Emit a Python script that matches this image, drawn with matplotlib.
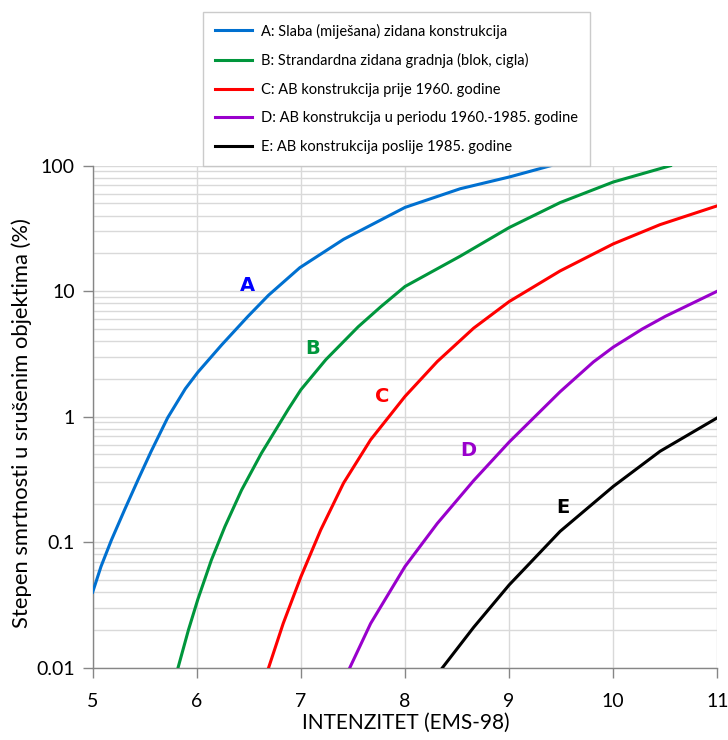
import matplotlib
matplotlib.use("Agg")
import matplotlib.pyplot as plt
from matplotlib.ticker import FixedLocator, LogLocator, NullFormatter, FuncFormatter

plt.rcParams['font.family'] = ['Lato', 'DejaVu Sans']

# ocitano sa slike: intenzitet (EMS-98) i stepen smrtnosti (%)
A_x = [5.0, 5.08, 5.18, 5.31, 5.44, 5.56, 5.72, 5.89, 6.01, 6.24, 6.49, 6.69, 6.99, 7.41, 8.0, 8.53, 9.01, 9.4]
A_y = [0.04, 0.064, 0.104, 0.184, 0.32, 0.526, 0.98, 1.67, 2.26, 3.74, 6.28, 9.3, 15.4, 25.9, 46.5, 65.5, 81.6, 100]

B_x = [5.82, 5.92, 6.01, 6.14, 6.27, 6.43, 6.62, 6.88, 7.0, 7.24, 7.55, 7.77, 8.0, 8.53, 9.0, 9.49, 10.0, 10.55]
B_y = [0.01, 0.02, 0.035, 0.072, 0.133, 0.26, 0.51, 1.15, 1.64, 2.85, 5.2, 7.55, 10.9, 19.0, 32.1, 50.8, 74.1, 100]

C_x = [6.69, 6.83, 7.0, 7.19, 7.41, 7.67, 8.0, 8.31, 8.66, 9.0, 9.49, 10.0, 10.45, 11.0]
C_y = [0.01, 0.0225, 0.053, 0.125, 0.296, 0.655, 1.45, 2.75, 5.08, 8.26, 14.5, 23.8, 33.9, 47.9]

D_x = [7.47, 7.67, 8.0, 8.31, 8.66, 9.0, 9.49, 9.81, 10.0, 10.28, 10.5, 11.0]
D_y = [0.01, 0.0225, 0.064, 0.141, 0.31, 0.627, 1.58, 2.73, 3.58, 5.0, 6.3, 10]

E_x = [8.36, 8.66, 9.0, 9.49, 10.0, 10.45, 11.0]
E_y = [0.01, 0.021, 0.0456, 0.122, 0.278, 0.53, 0.98]

names = ["A: Slaba (miješana) zidana konstrukcija",
         "B: Strandardna zidana gradnja (blok, cigla)",
         "C: AB konstrukcija prije 1960. godine",
         "D: AB konstrukcija u periodu 1960.-1985. godine",
         "E: AB konstrukcija poslije 1985. godine"]
letters = ["A", "B", "C", "D", "E"]
label_pos = [(6.49, 11.0), (7.11, 3.5), (7.78, 1.45), (8.61, 0.54), (9.52, 0.189)]

line_colors = ["#0070D0", "#00963C", "#FF0000", "#9900CC", "#000000"]
text_colors = ["#0000FF", "#00963C", "#FF0000", "#9900CC", "#000000"]

fig = plt.figure(figsize=(7.28, 7.40), dpi=100)
ax = fig.add_axes([0.1273, 0.0977, 0.858, 0.6784])

series = [(A_x, A_y), (B_x, B_y), (C_x, C_y), (D_x, D_y), (E_x, E_y)]
handles = []
for (xs, ys), c, n in zip(series, line_colors, names):
    h, = ax.plot(xs, ys, color=c, lw=2.2, label=n, solid_joinstyle='round', zorder=3)
    handles.append(h)

for (lx, ly), t, c in zip(label_pos, letters, text_colors):
    ax.text(lx, ly, t, color=c, fontsize=14, fontweight='bold',
            family='DejaVu Sans', ha='center', va='center', zorder=4)

ax.set_yscale('log')
ax.set_xlim(5, 11)
ax.set_ylim(0.01, 100)
ax.xaxis.set_major_locator(FixedLocator([5, 6, 7, 8, 9, 10, 11]))
ax.yaxis.set_major_locator(FixedLocator([0.01, 0.1, 1, 10, 100]))
ax.yaxis.set_minor_locator(LogLocator(base=10, subs=range(2, 10)))
ax.yaxis.set_minor_formatter(NullFormatter())
ax.yaxis.set_major_formatter(FuncFormatter(lambda v, p: "%g" % v))

ax.grid(True, which='major', color='#D9D9D9', lw=1.0, zorder=0)
ax.grid(True, which='minor', axis='y', color='#D9D9D9', lw=1.0, zorder=0)
ax.set_axisbelow(True)

for s in ['top', 'right']:
    ax.spines[s].set_visible(False)
for s in ['left', 'bottom']:
    ax.spines[s].set_color('#868686')
    ax.spines[s].set_linewidth(1.0)

ax.tick_params(axis='both', which='major', direction='out', length=7, width=1.0,
               color='#868686', labelsize=14, labelcolor='#000000')
ax.tick_params(axis='x', which='major', pad=11)
ax.tick_params(axis='y', which='major', pad=6)
ax.tick_params(axis='y', which='minor', length=0)

ax.set_xlabel("INTENZITET (EMS-98)", fontsize=15, va='center')
ax.xaxis.set_label_coords(0.502, -0.11)
ax.set_ylabel("Stepen smrtnosti u srušenim objektima (%)", fontsize=15.8, va='center')
ax.yaxis.set_label_coords(-0.113, 0.487)

leg = fig.legend(handles=handles, loc='upper left', bbox_to_anchor=(0.2793, 0.984),
                 fontsize=10.5, frameon=True, fancybox=False, handlelength=2.55,
                 labelspacing=1.0, borderpad=0.8, handletextpad=0.6,
                 borderaxespad=0)
leg.get_frame().set_edgecolor('#BFBFBF')
leg.get_frame().set_linewidth(1.0)

fig.savefig("out.png", dpi=100)
